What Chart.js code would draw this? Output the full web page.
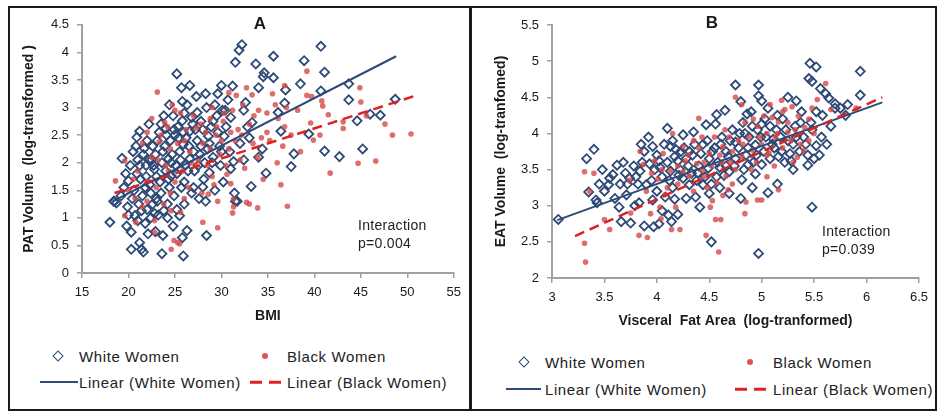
<!DOCTYPE html>
<html>
<head>
<meta charset="utf-8">
<script src="https://cdn.jsdelivr.net/npm/chart.js@4.4.1/dist/chart.umd.min.js"></script>
<style>
  body { margin:0; width:939px; height:414px; background:#fff; position:relative; overflow:hidden;
         font-family:"Liberation Sans", Arial, sans-serif; color:#1a1a1a; }
  #frame { position:absolute; left:8px; top:6px; width:925px; height:401px; border:2px solid #1a1a1a; }
  #divider { position:absolute; left:469px; top:6px; width:3px; height:405px; background:#1a1a1a; }
  canvas { position:absolute; }
  .ttl { position:absolute; font-weight:bold; font-size:17px; transform:translate(-50%,-50%); }
  .note { position:absolute; font-size:14px; letter-spacing:0.3px; line-height:18px; color:#222; }
  .lg { position:absolute; font-size:15px; letter-spacing:0.6px; color:#222; transform:translateY(-50%); white-space:nowrap; }
  .mk { position:absolute; }
  .dia { width:6px; height:6px; border:1.7px solid #2e4a76; transform:translate(-50%,-50%) rotate(45deg); }
  .dot { width:6px; height:6px; border-radius:50%; background:#d95555; transform:translate(-50%,-50%); }
  .sol { height:2px; background:#2e4a78; transform:translateY(-50%); }
  .dsh { height:2.5px; transform:translateY(-50%);
         background:repeating-linear-gradient(to right, #dd2222 0 12px, transparent 12px 19px); }
</style>
</head>
<body>
<div id="frame"></div>
<div id="divider"></div>

<canvas id="chartA" width="458" height="330" style="left:10px;top:9px"></canvas>
<canvas id="chartB" width="462" height="330" style="left:473px;top:9px"></canvas>

<div class="ttl" style="left:260px;top:24px">A</div>
<div class="ttl" style="left:712px;top:23px">B</div>

<div class="note" style="left:358px;top:216px">Interaction<br>p=0.004</div>
<div class="note" style="left:822px;top:222px">Interaction<br>p=0.039</div>

<!-- legend A -->
<div class="mk dia" style="left:58px;top:356px"></div>
<div class="lg" style="left:79px;top:356px">White Women</div>
<div class="mk dot" style="left:265px;top:356px"></div>
<div class="lg" style="left:287px;top:356px">Black Women</div>
<div class="mk sol" style="left:40px;top:382px;width:38px"></div>
<div class="lg" style="left:79px;top:382px">Linear (White Women)</div>
<div class="mk dsh" style="left:250px;top:382px;width:33px"></div>
<div class="lg" style="left:287px;top:382px">Linear (Black Women)</div>

<!-- legend B -->
<div class="mk dia" style="left:524px;top:362px"></div>
<div class="lg" style="left:545px;top:362px">White Women</div>
<div class="mk dot" style="left:750px;top:362px"></div>
<div class="lg" style="left:773px;top:362px">Black Women</div>
<div class="mk sol" style="left:506px;top:389px;width:35px"></div>
<div class="lg" style="left:545px;top:389px">Linear (White Women)</div>
<div class="mk dsh" style="left:735px;top:389px;width:33px"></div>
<div class="lg" style="left:773px;top:389px">Linear (Black Women)</div>

<script>
// ---- Panel A: BMI vs PAT volume ----
const xTicksA = [15, 20, 25, 30, 35, 40, 45, 50, 55];
const yTicksA = [0, 0.5, 1, 1.5, 2, 2.5, 3, 3.5, 4, 4.5];

const whiteA = [
  [25.2,3.61],[25.7,3.36],[26.6,3.40],[25.8,3.11],[28.3,3.25],[29.6,3.25],[31.5,3.82],[31.9,4.04],[32.2,4.14],
  [33.7,3.79],[34.6,3.63],[35.6,3.93],[34.5,3.56],[38.9,3.85],[40.7,4.11],[41.1,3.64],[38.5,3.43],[40.7,3.30],
  [43.7,3.43],[43.7,3.14],[47.1,2.86],[46.0,2.88],[44.6,2.76],[48.7,3.15],[39.4,2.52],[41.1,2.21],[42.7,2.11],
  [45.2,2.25],[37.8,2.16],[37.5,1.93],[34.8,1.81],[33.2,1.57],[36.9,3.32],[36.8,3.08],[36.1,2.91],[35.6,3.54],
  [34.0,3.36],[32.6,3.09],[31.2,3.39],[30.7,3.14],[30.1,2.95],[33.3,2.73],[36.4,2.57],[34.4,2.25],[31.0,1.89],
  [31.3,2.02],[29.1,2.10],[28.7,1.82],[28.0,1.56],[28.3,1.30],[27.6,1.35],[20.9,2.46],[21.2,2.57],[19.3,2.08],
  [20.9,1.80],[20.0,1.67],[18.4,1.30],[21.7,2.26],[22.5,2.05],[22.8,1.88],[21.8,1.55],[23.1,1.30],[24.4,1.55],
  [24.3,2.07],[24.0,2.62],[25.0,2.50],[25.9,2.33],[26.6,2.57],[25.8,2.76],[26.8,2.82],[27.4,2.91],[28.4,3.00],
  [27.8,2.30],[26.6,2.07],[25.6,1.88],[26.0,1.65],[24.6,1.76],[28.6,2.48],[30.3,2.48],[31.0,2.82],[32.4,2.95],
  [18.0,0.92],[18.7,1.27],[19.8,0.85],[20.3,0.74],[20.7,1.04],[21.4,0.43],[20.3,0.43],[21.6,0.38],[23.6,0.35],
  [21.2,0.55],[22.1,0.71],[22.9,0.75],[23.7,0.68],[22.4,1.00],[23.8,1.13],[21.4,1.13],[21.8,0.90],[22.8,1.08],
  [24.2,1.00],[25.5,1.04],[25.9,0.31],[25.8,0.64],[26.3,0.77],[28.4,0.68],[31.5,1.30],[18.5,1.30],[31.7,1.30],
  [31.4,1.45],[32.4,2.05],[34.0,2.10],
  [19.5,1.55],[20.2,1.95],[20.5,2.20],[21.0,2.05],[21.3,1.70],[21.5,1.40],[21.9,1.95],[22.0,2.40],[22.3,1.60],
  [22.6,2.30],[22.9,2.15],[23.0,1.75],[23.3,2.55],[23.5,1.45],[23.6,2.00],[23.9,2.30],[24.0,1.85],[24.2,1.25],
  [24.5,2.40],[24.7,2.15],[24.9,1.40],[25.1,1.95],[25.3,2.65],[25.5,2.20],[25.7,1.55],[26.0,2.90],[26.2,2.45],
  [26.4,1.85],[26.8,1.45],[27.0,2.20],[27.2,2.60],[27.5,1.95],[27.8,2.75],[28.1,1.70],[28.5,2.25],[28.9,2.65],
  [29.3,1.50],[29.5,2.85],[29.8,2.30],[30.2,1.65],[30.5,2.65],[30.9,2.20],[21.1,1.25],[20.6,1.50],[19.9,1.20],
  [22.6,1.25],[23.2,1.05],[24.8,0.85],[22.2,2.70],[23.8,2.85],[24.4,3.05],[26.3,3.05],[27.3,3.20],[29.0,2.00],
  [29.9,1.95],[32.0,2.35],[33.0,2.45],[32.8,2.65],[30.0,3.40],[29.3,3.05],[26.0,1.25],[27.0,1.55],[25.2,1.15],
  [20.4,1.35],[20.8,2.30],[21.2,1.95],[21.6,2.15],[21.9,1.75],[22.2,2.05],[22.4,1.45],[22.7,1.95],[23.1,2.40],
  [23.4,1.65],[23.7,2.20],[24.1,2.50],[24.3,1.70],[24.6,2.00],[24.9,2.60],[25.2,1.80],[25.4,2.45],[25.6,2.05],
  [25.9,2.55],[26.1,1.95],[26.5,2.30],[26.9,2.70],[27.1,1.85],[27.4,2.40],[27.7,2.15],[28.0,2.60],[28.2,2.00],
  [28.7,2.35],[29.1,2.75],[29.6,2.55],[30.0,2.20],[30.4,2.95],[20.0,1.05],[21.0,0.95],[22.0,1.15],[23.0,1.35],
  [19.2,1.40],[19.7,1.80],[23.5,2.70],[24.8,2.85]
];

const blackA = [
  [23.1,3.28],[18.6,1.67],[19.6,2.03],[24.7,3.05],[25.6,2.90],[23.9,2.73],[23.3,2.38],[24.5,2.25],[30.8,3.27],
  [31.6,3.22],[32.7,3.36],[33.3,3.23],[35.5,3.25],[36.8,3.40],[39.2,3.66],[39.2,3.22],[39.7,3.20],[40.8,3.12],
  [40.9,3.03],[41.5,2.87],[39.6,2.72],[39.9,2.41],[40.6,2.50],[43.1,2.74],[43.1,2.62],[44.9,3.36],[45.0,3.10],
  [45.6,2.85],[47.6,2.70],[48.4,2.50],[50.4,2.52],[44.7,1.99],[46.6,2.03],[41.7,1.81],[36.4,1.60],[37.1,1.21],
  [33.0,1.25],[31.3,1.34],[30.6,1.79],[29.2,1.60],[27.9,1.45],[28.6,1.43],[30.8,2.25],[31.8,2.60],[31.5,2.40],
  [33.4,2.35],[34.9,2.55],[36.8,2.65],[36.1,2.80],[34.9,2.90],[36.6,2.30],[36.0,2.00],[33.9,2.10],[32.5,1.90],
  [29.4,2.50],[28.8,2.80],[28.0,2.35],[27.3,2.63],[26.6,2.20],[27.3,1.95],
  [19.6,1.04],[20.8,0.92],[22.8,0.74],[22.8,0.95],[24.6,0.43],[24.9,0.59],[25.5,0.53],[25.3,0.55],[24.6,1.13],
  [25.6,1.10],[28.0,0.92],[29.6,0.82],[29.6,1.30],[31.2,1.09],[31.3,1.20],[32.7,1.28],[33.9,1.18],[20.7,1.36],
  [22.0,1.30],[31.0,1.62],
  [20.0,1.50],[21.0,1.85],[21.5,2.35],[22.0,1.65],[22.5,2.10],[23.0,1.55],[23.5,2.50],[24.0,1.95],[24.2,2.65],
  [25.0,1.65],[25.3,2.35],[25.8,1.85],[26.2,2.60],[26.5,1.55],[27.0,2.85],[27.5,2.05],[28.3,2.55],[28.5,1.95],
  [29.0,3.00],[29.8,2.15],[30.2,2.75],[30.5,1.95],[31.2,2.95],[32.0,2.05],[32.3,3.05],[33.0,2.70],[34.0,2.95],
  [34.5,1.70],[35.2,2.40],[37.5,2.50],[38.2,2.95],[38.5,2.20],[37.0,3.00],[22.5,2.80],[21.5,1.20],[23.8,1.25],
  [22.0,2.55],[23.2,2.05],[24.3,1.85],[25.0,2.95],[26.0,2.40],[26.8,2.00],[27.8,2.70],[28.8,2.25],[29.5,2.65],
  [30.0,2.40],[31.0,2.55],[32.2,2.50],[33.5,2.85],[34.3,2.45],[35.8,3.05],[30.3,2.90],[29.0,1.75],[26.0,1.35],
  [24.5,1.45],[20.5,1.70]
];

const fitWhiteA = [[18.3, 1.30], [48.8, 3.93]];
const fitBlackA = [[18.5, 1.45], [50.8, 3.21]];

// ---- Panel B: visceral fat area vs EAT volume ----
const xTicksB = [3, 3.5, 4, 4.5, 5, 5.5, 6, 6.5];
const yTicksB = [2, 2.5, 3, 3.5, 4, 4.5, 5, 5.5];

const whiteB = [
  [3.33,3.65],[3.40,3.78],[3.35,3.19],[3.42,3.08],[3.54,3.29],[3.62,3.56],[3.58,3.43],[3.55,3.38],[3.74,3.38],
  [3.96,3.82],[4.10,4.07],[4.13,3.82],[4.23,3.75],[4.20,3.62],[4.31,3.75],[4.47,4.12],[4.57,4.26],[4.65,4.32],
  [4.56,4.13],[4.75,4.67],[4.80,4.44],[4.86,4.27],[4.97,4.67],[4.97,4.52],[5.00,4.45],[5.08,4.10],[5.00,4.13],
  [5.10,3.85],[5.25,4.50],[5.33,4.45],[5.46,4.97],[5.52,4.92],[5.45,4.76],[5.48,4.72],[5.56,4.62],[5.61,4.55],
  [5.64,4.49],[5.70,4.41],[5.82,4.40],[5.70,4.35],[5.94,4.53],[5.94,4.86],[5.48,4.05],[5.52,3.83],[5.55,3.70],
  [5.44,3.70],[5.44,3.56],[5.57,3.95],[5.52,4.30],[5.58,4.25],[5.25,3.90],[5.27,3.72],[5.16,3.68],[5.00,3.57],
  [4.94,3.44],[4.81,3.36],[4.87,3.57],[4.69,3.47],[4.60,3.53],[4.50,3.65],[4.44,3.29],[4.31,3.29],[4.25,3.38],
  [4.13,3.48],[4.03,3.53],[3.93,3.58],[3.84,3.48],[3.82,3.30],[3.90,3.29],[3.71,3.15],[3.83,3.04],[3.96,3.08],
  [4.08,3.12],[4.17,3.09],[4.37,3.12],[4.50,3.17],[4.69,3.17],[4.91,3.25],[5.06,3.18],[4.66,3.75],[4.75,3.88],
  [4.84,4.00],[4.94,3.84],
  [3.06,2.81],[3.43,3.04],[3.64,2.98],[3.66,2.78],[3.75,2.76],[3.88,2.72],[3.97,2.71],[4.02,2.75],[4.14,2.78],
  [4.11,2.87],[4.20,2.88],[4.05,2.93],[4.41,2.98],[4.52,2.50],[4.97,2.34],[5.48,2.98],[3.79,3.00],
  [3.95,3.35],[4.00,3.70],[4.05,3.40],[4.10,3.60],[4.15,3.25],[4.18,3.78],[4.22,3.50],[4.28,3.65],[4.33,3.45],
  [4.36,3.85],[4.40,3.55],[4.42,3.72],[4.46,3.40],[4.48,3.90],[4.52,3.30],[4.55,3.80],[4.58,3.60],[4.62,3.95],
  [4.64,3.42],[4.68,3.68],[4.72,4.05],[4.74,3.55],[4.78,3.80],[4.82,4.15],[4.85,3.70],[4.88,3.95],[4.90,4.30],
  [4.92,3.60],[4.96,4.05],[5.02,3.75],[5.04,3.95],[5.06,4.35],[5.12,3.80],[5.14,4.05],[5.18,3.95],[5.20,4.20],
  [5.22,3.60],[5.30,3.85],[5.32,4.10],[5.36,3.75],[5.38,4.30],[5.40,3.95],[5.30,3.50],[3.88,3.75],[3.78,3.55],
  [3.70,3.45],[3.65,3.30],[3.60,3.10],[3.48,3.50],[3.85,3.85],[3.92,3.95],[4.25,3.98],[4.35,4.02],[4.00,3.20],
  [4.28,3.10],[4.60,3.25],[4.80,3.10],[5.15,3.30],[5.62,3.85],[5.66,4.10],[5.75,4.35],[5.80,4.25],[4.15,3.90],
  [4.38,3.35],
  [4.02,3.62],[4.07,3.85],[4.12,3.35],[4.17,3.68],[4.21,3.42],[4.26,3.80],[4.30,3.55],[4.34,3.70],[4.39,3.45],
  [4.44,3.85],[4.49,3.52],[4.53,3.75],[4.57,3.40],[4.61,3.85],[4.66,3.55],[4.70,3.90],[4.75,3.65],[4.79,4.00],
  [4.83,3.50],[4.87,3.80],[4.91,4.10],[4.95,3.70],[4.99,3.95],[5.03,4.20],[5.08,3.65],[5.11,3.92],[5.15,4.25],
  [5.19,3.75],[5.23,4.05],[5.28,3.62],[5.33,3.95],[5.37,4.15],[5.42,3.85],[5.47,4.15],[5.50,3.65],[3.80,3.40],
  [3.72,3.30],[3.86,3.60],[3.98,3.50],[3.50,3.20],[3.45,3.30],[3.68,3.60]
];

const blackB = [
  [3.31,3.47],[3.40,3.45],[3.36,3.20],[3.74,3.35],[3.98,3.62],[4.06,3.72],[4.15,4.00],[4.01,3.37],[4.13,3.48],
  [4.25,3.82],[4.40,4.21],[4.43,3.95],[4.50,3.72],[4.63,3.82],[4.69,3.95],[4.75,4.50],[4.81,4.40],[4.84,4.15],
  [4.96,4.10],[5.02,4.24],[5.10,4.22],[5.19,4.46],[5.22,4.33],[5.29,4.37],[5.16,4.16],[5.35,4.24],[5.41,4.08],
  [5.61,4.69],[5.53,4.47],[5.66,4.33],[5.37,3.85],[5.34,3.67],[5.40,3.76],[5.25,4.02],[5.13,3.94],[5.07,3.73],
  [5.00,3.85],[4.91,3.77],[4.81,3.68],[4.75,3.50],[4.66,3.41],[4.57,3.32],[4.43,3.49],[4.38,3.58],[4.31,3.41],
  [4.25,3.47],[4.20,3.30],[4.63,3.14],[4.53,3.07],[5.00,3.08],[5.16,3.22],[4.85,3.05],[3.84,3.75],[3.87,3.57],
  [3.31,2.48],[3.32,2.22],[3.50,2.81],[3.55,2.67],[3.75,2.90],[3.83,2.59],[3.91,2.56],[3.94,2.89],[4.03,2.98],
  [4.04,2.82],[4.14,2.67],[4.22,2.67],[4.18,2.98],[4.47,2.59],[4.51,2.98],[4.56,2.81],[4.59,2.36],[4.61,2.81],
  [4.84,2.89],[4.96,3.08],
  [4.30,3.70],[4.35,3.90],[4.45,3.60],[4.55,3.95],[4.60,3.70],[4.65,4.05],[4.70,3.60],[4.78,3.90],[4.88,3.95],
  [4.92,4.20],[4.95,3.60],[5.05,4.00],[5.08,4.40],[5.12,3.55],[5.20,3.80],[5.28,3.90],[5.32,4.05],[5.45,4.20],
  [5.50,4.00],[4.10,3.25],[3.95,3.45],[4.20,3.55],[4.48,3.25],[4.72,3.30],[5.05,3.40],[5.90,4.35],[4.08,3.15],
  [4.40,3.80],[4.52,3.55],[4.62,3.60],[4.72,3.75],[4.82,3.85],[4.90,3.50],[4.98,3.95],[5.05,3.70],[5.15,4.00],
  [5.25,4.15],[5.30,3.60],[5.45,3.90],[4.45,3.40],[4.27,3.62],[4.05,3.50],[3.90,3.20],[4.35,3.20],[4.68,3.22],
  [5.20,4.30],[5.48,4.35]
];

const fitWhiteB = [[3.05, 2.80], [6.15, 4.43]];
const fitBlackB = [[3.22, 2.58], [6.15, 4.50]];

const NAVY = '#2e4a76';
const NAVY_LINE = '#2e4a78';
const RED_DOT = 'rgba(214,72,72,0.8)';
const RED_LINE = '#dd2222';
const AXIS = '#a0a0a0';
const FONT = '"Liberation Sans", Arial, sans-serif';

function pts(list) {
  return list.map(p => ({ x: p[0], y: p[1] }));
}

function makeChart(id, c) {
  new Chart(document.getElementById(id), {
    type: 'scatter',
    data: {
      datasets: [
        { data: pts(c.fitB), showLine: true, pointRadius: 0, borderColor: RED_LINE,
          borderWidth: 2.5, borderDash: [10, 6], order: 0 },
        { data: pts(c.fitW), showLine: true, pointRadius: 0, borderColor: NAVY_LINE,
          borderWidth: 2, order: 1 },
        { data: pts(c.black), pointStyle: 'circle', pointRadius: 2.8, backgroundColor: RED_DOT,
          borderWidth: 0, order: 2 },
        { data: pts(c.white), pointStyle: 'rectRot', pointRadius: 4.5, borderColor: NAVY,
          backgroundColor: 'rgba(255,255,255,0)', borderWidth: 1.8, order: 3 }
      ]
    },
    options: {
      responsive: false,
      animation: false,
      events: [],
      layout: { padding: c.pad },
      plugins: { legend: { display: false }, tooltip: { enabled: false } },
      scales: {
        x: {
          type: 'linear', min: c.xTicks[0], max: c.xTicks[c.xTicks.length - 1],
          afterBuildTicks: s => { s.ticks = c.xTicks.map(v => ({ value: v })); },
          afterFit: s => { s.height = c.xh; },
          border: { display: true, color: AXIS, width: 2 },
          grid: { display: true, drawOnChartArea: false, drawTicks: true, tickLength: 5, color: AXIS, lineWidth: 1.5 },
          ticks: { color: '#1a1a1a', font: { family: FONT, size: 13 }, padding: 7, maxRotation: 0, autoSkip: false,
                   callback: v => String(v) },
          title: { display: true, text: c.xTitle, color: '#1a1a1a',
                   font: { family: FONT, size: 14, weight: 'bold' }, padding: { top: 0, bottom: c.xtp } }
        },
        y: {
          type: 'linear', min: c.yTicks[0], max: c.yTicks[c.yTicks.length - 1],
          afterBuildTicks: s => { s.ticks = c.yTicks.map(v => ({ value: v })); },
          afterFit: s => { s.width = c.yw; },
          border: { display: true, color: AXIS, width: 2 },
          grid: { display: true, drawOnChartArea: false, drawTicks: true, tickLength: 5, color: AXIS, lineWidth: 1.5 },
          ticks: { color: '#1a1a1a', font: { family: FONT, size: 13 }, padding: 8, autoSkip: false,
                   callback: v => String(v) },
          title: { display: true, text: c.yTitle, color: '#1a1a1a',
                   font: { family: FONT, size: 14, weight: 'bold' }, padding: { top: c.ytp, bottom: 0 } }
        }
      }
    }
  });
}

makeChart('chartA', {
  white: whiteA, black: blackA, fitW: fitWhiteA, fitB: fitBlackA,
  xTicks: xTicksA, yTicks: yTicksA,
  xTitle: 'BMI', yTitle: 'PAT Volume  (log-transformed )',
  pad: { top: 12, right: 12, bottom: 0, left: 0 }, yw: 72, xh: 66, xtp: 14, ytp: 11
});

makeChart('chartB', {
  white: whiteB, black: blackB, fitW: fitWhiteB, fitB: fitBlackB,
  xTicks: xTicksB, yTicks: yTicksB,
  xTitle: 'Visceral  Fat Area  (log-tranformed)', yTitle: 'EAT Volume  (log-tranfomed)',
  pad: { top: 16, right: 13, bottom: 0, left: 0 }, yw: 79, xh: 61, xtp: 9, ytp: 20
});
</script>
</body>
</html>
